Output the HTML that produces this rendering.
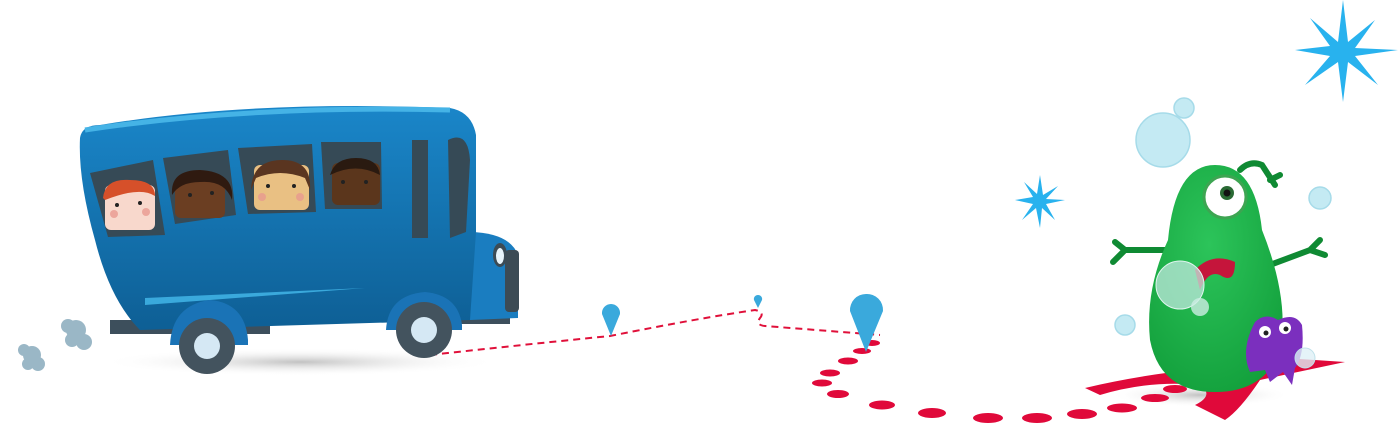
<!DOCTYPE html>
<html><head><meta charset="utf-8"><style>html,body{margin:0;padding:0;background:#fff;width:1400px;height:427px;overflow:hidden}</style></head>
<body>
<svg width="1400" height="427" viewBox="0 0 1400 427" xmlns="http://www.w3.org/2000/svg">
<defs>
<linearGradient id="bg" x1="0" y1="0" x2="0" y2="1"><stop offset="0" stop-color="#1a86c9"/><stop offset="1" stop-color="#0e5f95"/></linearGradient>
<radialGradient id="sh"><stop offset="0" stop-color="#999" stop-opacity=".6"/><stop offset="1" stop-color="#fff" stop-opacity="0"/></radialGradient>
<radialGradient id="gr" cx=".45" cy=".35" r=".7"><stop offset="0" stop-color="#2cc45a"/><stop offset="1" stop-color="#13a03c"/></radialGradient>
</defs>
<ellipse cx="300" cy="362" rx="200" ry="14" fill="url(#sh)"/>
<ellipse cx="1200" cy="395" rx="90" ry="12" fill="url(#sh)"/>
<path d="M430 355 Q520 345 610 336 Q700 318 755 310 Q765 312 760 318 Q755 325 765 326 L880 335" fill="none" stroke="#e0103a" stroke-width="2" stroke-dasharray="7 5"/>
<g fill="#e0093a">
<ellipse cx="872" cy="343" rx="8" ry="3"/><ellipse cx="862" cy="351" rx="9" ry="3"/><ellipse cx="848" cy="361" rx="10" ry="3.5"/>
<ellipse cx="830" cy="373" rx="10" ry="3.5"/><ellipse cx="822" cy="383" rx="10" ry="3.5"/><ellipse cx="838" cy="394" rx="11" ry="4"/>
<ellipse cx="882" cy="405" rx="13" ry="4.5"/><ellipse cx="932" cy="413" rx="14" ry="5"/><ellipse cx="988" cy="418" rx="15" ry="5"/>
<ellipse cx="1037" cy="418" rx="15" ry="5"/><ellipse cx="1082" cy="414" rx="15" ry="5"/><ellipse cx="1122" cy="408" rx="15" ry="4.5"/>
<ellipse cx="1155" cy="398" rx="14" ry="4"/><ellipse cx="1175" cy="389" rx="12" ry="4"/>
<path d="M1085 388 Q1160 370 1250 365 L1240 355 L1345 362 L1260 380 Q1240 410 1225 420 L1195 405 Q1215 395 1200 385 Q1150 380 1100 395 Z"/>
</g>
<path d="M611 304 a9 9 0 0 1 9 10 L611 336 L602 314 a9 9 0 0 1 9 -10z" fill="#3aa9dc"/>
<path d="M758 295 a4 4 0 0 1 4 5 L758 308 L754 300 a4 4 0 0 1 4 -5z" fill="#3aa9dc"/>
<path d="M866 294 a16 16 0 0 1 17 17 L866 352 L850 311 a16 16 0 0 1 16 -17z" fill="#3aa9dc"/>
<g fill="#9ab7c6"><circle cx="76" cy="330" r="10"/><circle cx="68" cy="326" r="7"/><circle cx="84" cy="342" r="8"/><circle cx="72" cy="340" r="7"/>
<circle cx="32" cy="355" r="9"/><circle cx="24" cy="350" r="6"/><circle cx="38" cy="364" r="7"/><circle cx="28" cy="364" r="6"/></g>
<rect x="110" y="320" width="160" height="14" fill="#3d4f5c"/>
<rect x="400" y="310" width="110" height="14" fill="#3d4f5c"/>
<path d="M470 232 Q510 233 518 255 L518 318 L470 320 Z" fill="#1a7dc0"/>
<rect x="505" y="250" width="14" height="62" rx="4" fill="#3c4b55"/>
<ellipse cx="500" cy="255" rx="7" ry="12" fill="#3c4b55"/><ellipse cx="500" cy="256" rx="4" ry="8" fill="#e8f4fb"/>
<path d="M80 138 Q82 125 100 125 Q250 100 450 108 Q472 112 476 135 L476 232 L470 320 L140 330 Q110 300 95 240 Q78 180 80 138 Z" fill="url(#bg)"/>
<path d="M85 130 Q250 105 450 110" stroke="#45b3e6" stroke-width="5" fill="none"/>
<path d="M145 298 L365 288 L145 305 Z" fill="#3aa9dc"/>
<g fill="#364a56">
<path d="M90 173 L153 160 L165 235 L108 237 Z"/><path d="M163 158 L228 150 L236 215 L175 224 Z"/>
<path d="M238 148 L312 144 L316 212 L248 214 Z"/><path d="M321 142 L381 142 L382 209 L325 209 Z"/>
<rect x="412" y="140" width="16" height="98"/><path d="M448 140 Q468 130 470 160 L466 232 L450 238 Z"/>
</g>
<g>
<rect x="105" y="185" width="50" height="45" rx="6" fill="#f8d8cc"/><path d="M103 198 Q105 178 130 180 Q155 180 155 196 Q140 186 105 200Z" fill="#d6502a"/>
<rect x="175" y="176" width="50" height="42" rx="6" fill="#6b3e22"/><path d="M172 195 Q170 170 200 170 Q235 172 232 200 Q225 180 200 182 Q180 182 172 195Z" fill="#2f1a10"/>
<rect x="254" y="165" width="55" height="45" rx="6" fill="#e9c083"/><path d="M251 190 Q252 160 282 160 Q312 160 310 190 L305 178 Q280 168 256 178 Z" fill="#5a3520"/>
<rect x="332" y="163" width="48" height="42" rx="6" fill="#5b361c"/><path d="M330 175 Q335 158 356 158 Q378 158 380 175 Q356 162 330 175Z" fill="#2a1a10"/>
<g fill="#222"><circle cx="117" cy="205" r="2"/><circle cx="140" cy="203" r="2"/><circle cx="190" cy="195" r="2"/><circle cx="212" cy="193" r="2"/>
<circle cx="268" cy="186" r="2"/><circle cx="294" cy="186" r="2"/><circle cx="343" cy="182" r="2"/><circle cx="366" cy="182" r="2"/></g>
<g fill="#e89a90" opacity=".8"><circle cx="114" cy="214" r="4"/><circle cx="146" cy="212" r="4"/><circle cx="262" cy="197" r="4"/><circle cx="300" cy="197" r="4"/></g>
</g>
<path d="M170 345 Q172 305 210 300 Q245 303 248 340 L248 345 Z" fill="#1a73b6"/>
<path d="M386 330 Q388 295 425 292 Q458 295 462 325 L462 330 Z" fill="#1a73b6"/>
<circle cx="207" cy="346" r="28" fill="#43535e"/><circle cx="207" cy="346" r="13" fill="#d5e8f4"/>
<circle cx="424" cy="330" r="28" fill="#43535e"/><circle cx="424" cy="330" r="13" fill="#d5e8f4"/>
<path d="M1343 0 L1348 42 L1375 20 L1355 48 L1398 50 L1355 56 L1378 85 L1348 62 L1343 102 L1338 62 L1305 85 L1330 56 L1295 50 L1330 46 L1310 18 L1338 42 Z" fill="#28b2ee"/>
<path d="M1040 175 L1043 195 L1058 186 L1046 199 L1065 200 L1046 204 L1055 220 L1042 208 L1040 228 L1036 208 L1022 220 L1033 204 L1015 200 L1033 197 L1024 182 L1037 194 Z" fill="#28b2ee"/>
<g fill="#c4eaf3" stroke="#a6dbe9" stroke-width="1.5">
<circle cx="1163" cy="140" r="27"/><circle cx="1184" cy="108" r="10"/><circle cx="1320" cy="198" r="11"/><circle cx="1125" cy="325" r="10"/>
</g>
<g stroke="#0f8a33" stroke-width="6" fill="none" stroke-linecap="round">
<path d="M1170 250 L1125 250 M1125 250 L1115 242 M1125 250 L1113 262"/>
<path d="M1270 265 L1310 250 L1320 240 M1310 250 L1325 255"/>
<path d="M1240 170 Q1250 160 1262 165 L1275 185 M1270 180 L1280 175"/>
</g>
<path d="M1215 165 Q1255 165 1262 230 Q1290 300 1280 350 Q1265 392 1215 392 Q1160 392 1150 340 Q1145 290 1168 240 Q1175 165 1215 165 Z" fill="url(#gr)"/>
<circle cx="1225" cy="197" r="21" fill="#fff" stroke="#3da552" stroke-width="3"/><circle cx="1227" cy="193" r="7" fill="#2a6a34"/><circle cx="1227" cy="193" r="3.5" fill="#111"/>
<path d="M1195 270 Q1212 252 1235 262 Q1235 285 1220 275 Q1208 270 1200 290 Z" fill="#c5153b"/>
<circle cx="1180" cy="285" r="24" fill="#bfe8dd" fill-opacity=".75" stroke="#e0f5ef"/>
<circle cx="1200" cy="307" r="9" fill="#cdeee4" fill-opacity=".8"/>
<path d="M1255 322 Q1265 312 1278 320 Q1295 312 1302 325 Q1305 355 1295 368 L1292 385 L1283 372 L1270 382 L1265 370 L1250 372 Q1240 350 1255 322 Z" fill="#7b2fbe"/>
<circle cx="1265" cy="332" r="6" fill="#fff"/><circle cx="1266" cy="333" r="2.5" fill="#222"/>
<circle cx="1285" cy="328" r="6" fill="#fff"/><circle cx="1286" cy="329" r="2.5" fill="#222"/>
<circle cx="1305" cy="358" r="10" fill="#dff0f6" fill-opacity=".8" stroke="#bfe1ea"/>
</svg>
</body></html>
